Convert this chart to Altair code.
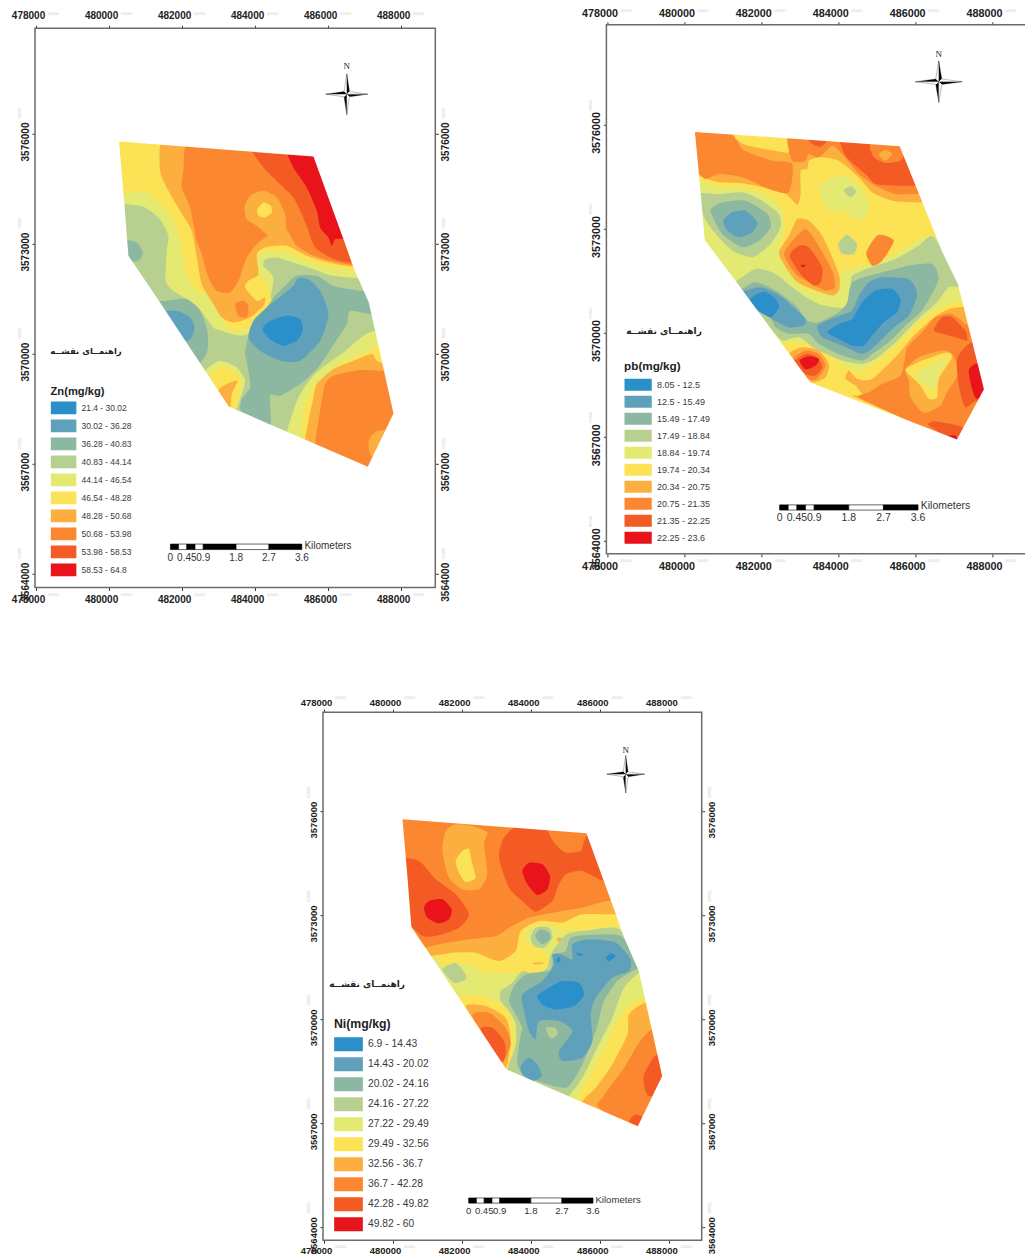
import altair as alt
import pandas as pd

COLORS = ["#2b8fc9", "#5fa1ba", "#8cb7a1", "#b8d08f", "#e4ea71", "#fce255", "#fcaf3f", "#fb8731", "#f35a24", "#e8131b"]
ZN_LABELS = ["21.4 - 30.02", "30.02 - 36.28", "36.28 - 40.83", "40.83 - 44.14", "44.14 - 46.54", "46.54 - 48.28", "48.28 - 50.68", "50.68 - 53.98", "53.98 - 58.53", "58.53 - 64.8"]
PB_LABELS = ["8.05 - 12.5", "12.5 - 15.49", "15.49 - 17.49", "17.49 - 18.84", "18.84 - 19.74", "19.74 - 20.34", "20.34 - 20.75", "20.75 - 21.35", "21.35 - 22.25", "22.25 - 23.6"]
NI_LABELS = ["6.9 - 14.43", "14.43 - 20.02", "20.02 - 24.16", "24.16 - 27.22", "27.22 - 29.49", "29.49 - 32.56", "32.56 - 36.7", "36.7 - 42.28", "42.28 - 49.82", "49.82 - 60"]
X_TICKS = [478000, 480000, 482000, 484000, 486000, 488000]
Y_TICKS = [3564000, 3567000, 3570000, 3573000, 3576000]
X_DOMAIN = [477972, 488935]
Y_DOMAIN = [3563625, 3578870]
BOX = (479600, 488800, 3566000, 3576600)
SCALE_KM = [0, 0.225, 0.45, 0.675, 0.9, 1.8, 2.7, 3.6]
SCALE_TEXT = [("0", 0), ("0.45", 0.45), ("0.9", 0.9), ("1.8", 1.8), ("2.7", 2.7), ("3.6", 3.6)]
LEGEND_TITLE_FA = "راهنمــای نقشــه"

OUTLINE = [(357,432),(940,477),(1030,725),(1060,810),(1106,915),(1180,1248),(1103,1408),(686,1227),(470,900),(385,775),(373,620)]

ZN = [
 (4,0,[(340,620),(373,620),(430,628),(480,665),(505,715),(500,760),(497,850),(520,880),(590,925),(640,990),(665,1000),(720,1015),(760,1000),(800,930),(810,905),(820,840),(790,805),(795,785),(830,780),(880,795),(940,815),(1000,835),(1120,845),(1200,845),(1200,400),(340,400)]),
 (4,0,[(1130,1000),(1090,1015),(1030,1065),(980,1100),(935,1140),(895,1200),(870,1270),(860,1310),(860,1440),(1240,1440),(1240,1000)]),
 (4,0,[(620,1115),(660,1090),(710,1110),(735,1150),(720,1205),(705,1240),(650,1240),(600,1160)]),
 (5,0,[(340,590),(372,590),(420,580),(460,600),(500,640),(530,690),(548,760),(555,820),(590,880),(640,900),(680,990),(720,1000),(770,990),(800,950),(815,915),(800,860),(775,830),(770,785),(800,760),(860,765),(950,800),(1065,820),(1200,820),(1200,400),(340,400)]),
 (5,0,[(1145,1040),(1100,1065),(1030,1095),(985,1125),(935,1175),(910,1240),(905,1320),(905,1440),(1240,1440),(1240,1040)]),
 (5,0,[(630,1140),(660,1110),(700,1120),(722,1150),(712,1205),(695,1240),(660,1230)]),
 (6,0,[(490,420),(480,520),(505,580),(540,640),(575,700),(590,780),(605,860),(640,920),(665,960),(700,975),(750,960),(790,925),(795,900),(770,910),(735,870),(745,850),(775,830),(770,770),(800,748),(860,745),(920,775),(985,795),(1062,808),(1200,808),(1200,420)]),
 (6,0,[(1160,1100),(1130,1090),(1115,1070),(1060,1090),(1000,1115),(950,1160),(940,1200),(925,1270),(915,1330),(915,1440),(1240,1440),(1240,1100)]),
 (6,0,[(655,1180),(680,1160),(712,1150),(695,1190),(690,1240),(670,1240)]),
 (7,0,[(565,420),(550,520),(545,570),(570,630),(590,730),(605,770),(625,840),(650,880),(690,885),(715,850),(740,780),(770,740),(805,715),(860,700),(885,740),(930,770),(990,790),(1060,803),(1200,803),(1200,420)]),
 (7,0,[(1160,1120),(1080,1118),(1000,1135),(975,1160),(960,1240),(945,1340),(945,1440),(1240,1440),(1240,1120)]),
 (7,0,[(705,920),(730,910),(745,925),(740,960),(715,955)]),
 (6,0,[(733,630),(750,595),(790,580),(830,600),(855,650),(860,700),(885,745),(820,718),(805,715),(770,685),(740,665)]),
 (6,0,[(1200,1300),(1135,1300),(1110,1320),(1105,1345),(1118,1380),(1200,1400)]),
 (5,0,[(772,635),(790,615),(812,625),(815,645),(795,660),(775,655)]),
 (8,0,[(750,440),(790,510),(840,560),(880,600),(905,650),(925,700),(945,750),(1000,785),(1060,795),(1200,795),(1200,440)]),
 (9,0,[(862,450),(880,510),(920,570),(950,640),(960,690),(985,720),(995,745),(1005,725),(1035,725),(1200,725),(1200,450)]),
 (2,0,[(370,730),(410,735),(428,765),(415,790),(370,790)]),
 (2,0,[(450,920),(500,910),(560,905),(600,940),(622,1000),(622,1060),(600,1095),(560,1100),(450,1000)]),
 (1,0,[(480,950),(530,940),(570,960),(583,990),(570,1025),(520,1040)]),
 (2,0,[(745,1120),(735,1065),(745,1020),(770,980),(800,930),(825,895),(860,860),(890,835),(950,835),(1000,865),(1080,880),(1130,880),(1130,950),(1050,940),(1040,980),(985,1065),(950,1115),(900,1160),(840,1195),(810,1195),(812,1295),(770,1285),(722,1240),(725,1205),(750,1170)]),
 (1,0,[(745,1020),(760,970),(800,930),(875,870),(895,842),(925,845),(960,880),(985,950),(960,1030),(900,1090),(840,1090),(780,1060)]),
 (0,0,[(787,995),(810,970),(860,955),(900,965),(908,1000),(890,1030),(850,1045),(810,1025)]),
]

PB = [
 (5,0,[(340,530),(420,565),(500,575),(570,590),(620,640),(625,700),(610,770),(650,840),(700,880),(790,880),(800,820),(830,815),(880,800),(960,770),(1030,725),(1075,715),(1200,715),(1200,400),(340,400)]),
 (5,855,[(620,190),(660,180),(720,190),(770,215),(800,250),(850,265),(900,240),(960,190),(1020,130),(1080,85),(1140,60),(1240,60),(1240,560),(800,400),(700,300)]),
 (6,0,[(340,525),(370,535),(430,555),(500,558),(560,570),(630,590),(665,622),(675,590),(675,520),(695,515),(700,490),(730,480),(790,490),(850,540),(890,585),(950,610),(1010,615),(1200,615),(1200,400),(340,400)]),
 (6,855,[(820,265),(845,290),(890,290),(960,225),(990,190),(1010,165),(1070,110),(1110,85),(1150,75),(1240,80),(1240,560),(1140,480),(830,340),(860,340),(840,310),(810,290)]),
 (6,855,[(640,215),(680,195),(730,205),(760,245),(750,285),(710,300),(660,260)]),
 (6,0,[(610,770),(640,715),(665,665),(700,670),(740,715),(790,830),(790,880),(770,895),(720,880),(660,850)]),
 (5,0,[(470,410),(640,422),(640,465),(585,458),(520,445),(495,435)]),
 (7,0,[(340,530),(370,530),(390,545),(430,530),(500,540),(580,575),(640,585),(650,500),(590,490),(530,470),(500,455),(480,425),(460,405),(340,400)]),
 (7,0,[(640,405),(650,490),(690,490),(700,470),(730,480),(770,445),(800,470),(850,530),(900,565),(960,590),(1020,590),(1200,590),(1200,405)]),
 (7,0,[(625,770),(660,720),(690,695),(720,730),(770,820),(778,870),(750,880),(710,860),(660,830)]),
 (7,855,[(850,345),(880,330),(920,305),(975,280),(990,220),(995,195),(1040,150),(1080,105),(1130,95),(1180,130),(1240,130),(1240,560),(1150,490)]),
 (7,855,[(650,235),(690,205),(730,215),(750,250),(725,290),(700,290)]),
 (7,0,[(872,770),(885,740),(910,712),(955,730),(920,790),(890,805)]),
 (6,855,[(990,260),(1030,225),(1100,205),(1130,215),(1150,270),(1115,330),(1095,370),(1045,392),(1005,345),(1000,295)]),
 (5,855,[(990,262),(1040,235),(1110,212),(1130,225),(1090,290),(1085,345),(1060,350),(1035,310),(1010,285)]),
 (4,855,[(1020,275),(1050,255),(1115,225),(1095,270),(1075,320),(1040,305)]),
 (8,0,[(795,405),(810,475),(870,530),(900,560),(960,565),(1015,565),(1200,565),(1200,405)]),
 (8,0,[(700,425),(755,428),(735,448),(710,440)]),
 (8,0,[(642,775),(670,745),(700,750),(740,810),(735,855),(715,865),(675,830)]),
 (8,855,[(1075,140),(1100,105),(1130,105),(1170,145),(1175,175),(1140,165),(1085,150)]),
 (8,855,[(1145,230),(1180,185),(1240,180),(1240,400),(1205,355),(1170,375),(1150,310)]),
 (8,855,[(1060,430),(1080,418),(1160,435),(1150,480)]),
 (8,855,[(655,240),(690,215),(725,225),(740,255),(720,280),(690,275)]),
 (7,0,[(885,440),(895,480),(930,497),(975,490),(985,470),(970,440)]),
 (6,0,[(910,472),(930,457),(950,470),(930,490)]),
 (9,0,[(675,803),(690,803),(682,810)]),
 (9,855,[(1180,265),(1200,245),(1240,250),(1240,320),(1205,350),(1190,320)]),
 (9,855,[(1115,462),(1140,460),(1145,475)]),
 (9,855,[(672,235),(700,222),(730,230),(720,250),(690,262)]),
 (4,0,[(735,565),(770,540),(820,540),(870,590),(880,640),(850,670),(800,640),(760,640),(735,600)]),
 (3,0,[(805,580),(825,567),(842,583),(825,600)]),
 (3,0,[(788,740),(815,712),(845,740),(835,770),(800,770)]),
 (3,0,[(365,590),(430,590),(500,585),(560,610),(610,650),(615,690),(585,740),(530,780),(470,760),(420,710),(385,660)]),
 (2,0,[(405,640),(440,615),(510,610),(575,650),(585,690),(550,730),(500,750),(440,710)]),
 (1,0,[(443,670),(470,645),(510,640),(545,675),(530,705),(490,720),(455,700)]),
 (3,0,[(470,860),(540,815),(600,830),(650,870),(700,905),(745,925),(810,930),(825,870),(830,835),(880,812),(960,785),(1030,745),(1075,720),(1160,860),(1120,870),(1085,915),(1040,955),(990,1005),(950,1045),(900,1085),(860,1100),(800,1090),(720,1055),(670,1020),(620,1030),(590,1000),(460,870)]),
 (2,0,[(490,880),(540,855),(600,880),(660,925),(695,970),(730,975),(790,945),(815,915),(830,855),(900,830),(1000,805),(1070,800),(1090,840),(1075,880),(1040,940),(990,985),(940,1035),(890,1070),(860,1090),(800,1075),(730,1040),(700,1010),(640,1010),(600,990),(580,960),(470,890)]),
 (1,0,[(500,885),(560,870),(620,900),(670,945),(690,965),(685,985),(640,990),(590,965),(540,920)]),
 (0,0,[(523,905),(565,883),(600,905),(610,930),(585,960),(540,935)]),
 (1,0,[(725,985),(780,960),(830,940),(850,895),(880,855),(920,840),(1000,845),(1025,890),(1000,955),(950,995),(900,1045),(860,1070),(800,1045),(740,1020)]),
 (0,855,[(755,150),(790,125),(830,110),(860,60),(900,25),(950,20),(975,50),(965,90),(925,120),(890,160),(865,190),(830,190),(790,170)]),
]

NI = [
 (5,0,[(300,820),(420,810),(445,845),(480,825),(530,835),(570,855),(720,855),(755,835),(760,800),(720,780),(690,760),(700,720),(760,712),(810,730),(880,725),(975,715),(1180,700),(1180,400),(300,400)]),
 (5,0,[(490,930),(560,925),(620,950),(645,985),(655,1040),(650,1100),(640,1150),(600,1150)]),
 (5,0,[(1050,930),(1000,950),(960,1010),(930,1075),(880,1170),(850,1240),(1180,1450),(1180,930)]),
 (6,0,[(300,800),(400,805),(470,795),(540,795),(610,820),(660,790),(675,730),(730,700),(800,705),(860,680),(955,680),(1180,680),(1180,400),(300,400)]),
 (6,0,[(510,955),(570,955),(630,990),(645,1050),(635,1130),(620,1140)]),
 (6,0,[(1050,945),(1000,980),(995,1040),(950,1130),(900,1200),(860,1250),(1180,1450),(1180,945)]),
 (7,0,[(300,782),(380,782),(430,770),(520,755),(600,745),(640,720),(700,690),(800,670),(860,660),(935,640),(1180,640),(1180,400),(300,400)]),
 (7,0,[(530,985),(580,975),(630,1020),(645,1070),(625,1120),(600,1130)]),
 (7,0,[(1075,1020),(1030,1065),(985,1140),(920,1230),(910,1260),(1180,1450),(1180,1020)]),
 (6,0,[(440,490),(450,430),(480,410),(530,415),(575,435),(565,470),(575,560),(550,605),(500,605),(460,570)]),
 (5,0,[(480,520),(500,490),(520,485),(530,530),(540,570),(510,583),(490,555)]),
 (8,0,[(300,515),(370,520),(420,575),(480,620),(520,680),(490,720),(420,745),(380,745),(345,715),(300,700)]),
 (8,0,[(610,510),(625,450),(680,405),(870,405),(930,580),(860,550),(810,560),(785,600),(770,640),(720,672),(680,640),(640,600)]),
 (8,0,[(555,1025),(590,1020),(625,1060),(630,1100),(615,1120)]),
 (8,0,[(1180,1100),(1085,1100),(1060,1130),(1043,1170),(1060,1225),(1180,1200)]),
 (8,840,[(1000,460),(1020,440),(1040,450),(1025,490)]),
 (7,0,[(760,420),(875,420),(862,470),(855,490),(810,495),(775,465)]),
 (9,0,[(385,660),(400,640),(440,635),(468,665),(460,695),(430,707),(395,690)]),
 (9,0,[(680,550),(700,525),(740,530),(763,565),(755,605),(725,622),(695,590)]),
 (3,0,[(765,800),(800,750),(825,735),(880,728),(970,725),(1060,850),(1030,855),(985,900),(950,990),(920,1050),(885,1120),(860,1170),(810,1230),(640,1160),(640,1130),(660,1070),(660,1010),(640,970),(615,940),(615,910),(650,885),(680,850),(720,860),(755,840)]),
 (3,0,[(705,750),(720,720),(760,720),(770,750),(745,780),(715,775)]),
 (3,0,[(440,845),(480,825),(510,860),(510,875),(475,885)]),
 (2,0,[(718,745),(735,725),(760,735),(763,755),(740,770)]),
 (2,0,[(775,800),(810,790),(825,750),(880,742),(975,745),(1040,830),(1010,850),(965,880),(925,940),(900,1030),(860,1130),(810,1200),(700,1170),(665,1130),(675,1040),(680,1020),(660,980),(640,940),(655,895),(690,860),(760,850),(770,830)]),
 (1,0,[(770,840),(775,830),(770,800),(795,800),(830,815),(830,770),(880,755),(960,765),(1005,815),(1000,850),(950,870),(900,930),(885,980),(890,1060),(860,1110),(800,1120),(790,1090),(830,1030),(790,1000),(730,1000),(720,1055),(700,1030),(685,970),(680,920),(740,880)]),
 (1,840,[(675,295),(700,270),(725,290),(738,325),(710,340),(680,320)]),
 (3,840,[(750,180),(780,180),(785,200),(765,212)]),
 (0,840,[(725,85),(760,60),(800,40),(850,45),(865,80),(835,115),(780,125),(740,110)]),
 (0,0,[(930,810),(945,797),(960,805),(940,820)]),
 (0,0,[(842,795),(860,798),(858,805),(845,802)]),
 (0,0,[(782,815),(790,808),(795,820),(785,825)]),
 (6,0,[(712,825),(745,825),(735,830),(715,830)]),
 (6,0,[(785,750),(795,750),(795,760),(785,760)]),
]

STAR_PIECES = [
 ("black", [(0,0),(0,1),(.13,.13)]), ("white", [(0,0),(0,1),(-.13,.13)]),
 ("black", [(0,0),(1,0),(.13,-.13)]), ("white", [(0,0),(1,0),(.13,.13)]),
 ("black", [(0,0),(0,-1),(-.13,-.13)]), ("white", [(0,0),(0,-1),(.13,-.13)]),
 ("black", [(0,0),(-1,0),(-.13,.13)]), ("white", [(0,0),(-1,0),(-.13,-.13)]),
]

def georef(tick_x, per_km_x, tick_y, per_km_y):
    """Map a trace point to easting/northing from the 478000 and 3576000 tick positions."""
    return lambda zx, zy: (478000 + (zx - tick_x) * 1000 / per_km_x,
                           3576000 - (zy - tick_y) * 1000 / per_km_y)

geo1 = georef(108, 109.5, 408, 110.08)
OUTLINE_MAP = [geo1(*p) for p in OUTLINE]

def clamp(e, n):
    m = 400
    return (min(max(e, BOX[0] + m), BOX[1] - m), min(max(n, BOX[2] + m), BOX[3] - m))

def refine(pts, step=150):
    out = []
    for k, (a, b) in enumerate(pts):
        c, d = pts[(k + 1) % len(pts)]
        parts = int(max(abs(c - a), abs(d - b)) // step) + 1
        out += [(a + (c - a) * s / parts, b + (d - b) * s / parts) for s in range(parts)]
    return out

def axis_x(orient, fs, pad, offset=0):
    return alt.Axis(orient=orient, values=X_TICKS, format="d", title=None, grid=False, domain=False,
                    tickColor="#333333", tickSize=3, labelOffset=-8, labelFlush=False, labelOverlap=False,
                    labelFont="Liberation Sans", labelFontWeight="bold", labelColor="#222222", labelPadding=pad,
                    labelFontSize=fs, offset=offset, minExtent=0)

def axis_y(orient, fs, labels=True):
    return alt.Axis(orient=orient, values=Y_TICKS, format="d", title=None, grid=False, domain=False,
                    tickColor="#333333", tickSize=3, labelAngle=270, labelAlign="center",
                    labelBaseline="bottom" if orient == "left" else "top", labelOffset=8, labelFlush=False,
                    labelOverlap=False, labels=labels, labelFont="Liberation Sans", labelFontWeight="bold",
                    labelColor="#222222", labelPadding=2, labelFontSize=fs, minExtent=0)

def panel(bands, base, geo, labels, title, w, h, fs_tick, pad, leg, star, bar, right_labels=True, drop=0.0):
    y_top = Y_DOMAIN[1] + drop * (Y_DOMAIN[1] - Y_DOMAIN[0]) / (h - drop)
    X = lambda **k: alt.X("e:Q", scale=alt.Scale(domain=X_DOMAIN, nice=False, zero=False), **k)
    Y = lambda **k: alt.Y("n:Q", scale=alt.Scale(domain=[Y_DOMAIN[0], y_top], nice=False, zero=False), **k)
    rows = []
    for i, (c, dy, pts) in enumerate(bands):
        for j, (zx, zy) in enumerate(refine(pts)):
            e, n = clamp(*geo(zx, zy + dy))
            rows.append(dict(poly=i, seq=j, e=e, n=n, band=labels[c]))
    poly_df = pd.DataFrame(rows)
    ratio = leg["h"] / leg["w"]
    legend = alt.Legend(orient="none", legendX=leg["x"], legendY=leg["y"], title=title,
                        titleFont="Liberation Sans", titleFontWeight="bold", titleFontSize=leg["title"],
                        titleColor="#222222", titlePadding=leg["pad"], labelFont="Liberation Sans",
                        labelFontSize=leg["fs"], labelColor="#3a3a3a", labelOffset=5,
                        symbolType=f"M-1,-{ratio:.3f}H1V{ratio:.3f}H-1Z", symbolSize=leg["w"] ** 2,
                        symbolStrokeWidth=0, clipHeight=leg["pitch"], rowPadding=0, symbolOpacity=1)
    frame = alt.Chart(pd.DataFrame([dict(e=X_DOMAIN[0], e2=X_DOMAIN[1], n=Y_DOMAIN[0], n2=Y_DOMAIN[1])])).mark_rect(
        fill="transparent", stroke="#6b6b6b", strokeWidth=1.5).encode(x=X(axis=None), x2="e2:Q", y=Y(axis=None), y2="n2:Q")
    base_layer = alt.Chart(pd.DataFrame([dict(e=BOX[0] + 400, e2=BOX[1] - 400, n=BOX[2] + 400, n2=BOX[3] - 400)])).mark_rect(
        color=COLORS[base]).encode(x=X(axis=None), x2="e2:Q", y=Y(axis=None), y2="n2:Q")
    bands_layer = alt.Chart(poly_df).mark_line(filled=True, interpolate="cardinal-closed", tension=0.35).encode(
        x=X(axis=axis_x("bottom", fs_tick, pad)), y=Y(axis=axis_y("left", fs_tick)), order="seq:Q", detail="poly:N",
        color=alt.Color("band:N", scale=alt.Scale(domain=labels, range=COLORS), legend=legend))

    box = [(BOX[0], BOX[3]), (BOX[0], BOX[2]), (BOX[1], BOX[2]), (BOX[1], BOX[3]), (BOX[0], BOX[3])]
    ring = box + OUTLINE_MAP + [OUTLINE_MAP[0], box[0]]
    mask_df = pd.DataFrame([dict(seq=i, e=e, n=n) for i, (e, n) in enumerate(ring)])
    mask = alt.Chart(mask_df).mark_line(filled=True, color="white", interpolate="linear").encode(
        x=X(axis=axis_x("top", fs_tick, pad, offset=-drop)), y=Y(axis=axis_y("right", fs_tick, right_labels)), order="seq:Q")

    sx, sy = star["e"], star["n"]
    star_rows = []
    for i, (ink, pts) in enumerate(STAR_PIECES):
        for j, (u, v) in enumerate(pts):
            star_rows.append(dict(poly=i, seq=j, ink=ink, e=sx + u * star["rx"], n=sy + v * star["ry"]))
    star_layer = alt.Chart(pd.DataFrame(star_rows)).mark_line(filled=True, stroke="#222222", strokeWidth=0.3).encode(
        x=X(axis=None), y=Y(axis=None), order="seq:Q", detail="poly:N",
        color=alt.Color("ink:N", scale=None))

    seg = []
    for i in range(len(SCALE_KM) - 1):
        seg.append(dict(e=bar["e"] + SCALE_KM[i] * 1000, e2=bar["e"] + SCALE_KM[i + 1] * 1000,
                        n=bar["n"] - 75, n2=bar["n"] + 75, ink="black" if i % 2 == 0 else "white"))
    bar_layer = alt.Chart(pd.DataFrame(seg)).mark_rect(stroke="black", strokeWidth=0.6).encode(
        x=X(axis=None), x2="e2:Q", y=Y(axis=None), y2="n2:Q", fill=alt.Fill("ink:N", scale=None))
    bar_text = alt.Chart(pd.DataFrame([dict(t=t, e=bar["e"] + km * 1000, n=bar["tn"]) for t, km in SCALE_TEXT])).mark_text(
        font="Liberation Sans", fontSize=bar["fs"], color="#333333").encode(x=X(axis=None), y=Y(axis=None), text="t:N")
    km_text = alt.Chart(pd.DataFrame([dict(t="Kilometers", e=bar["e"] + 3670, n=bar["n"] + 30)])).mark_text(
        font="Liberation Sans", fontSize=bar["fs"], color="#333333", align="left").encode(
        x=X(axis=None), y=Y(axis=None), text="t:N")

    north = alt.Chart(pd.DataFrame([dict(t="N", e=sx, n=star["tn"])])).mark_text(
        font="Liberation Serif", fontSize=9, color="#222222").encode(x=X(axis=None), y=Y(axis=None), text="t:N")
    fa = alt.Chart(pd.DataFrame([dict(t=LEGEND_TITLE_FA, e=leg["fa_e"], n=leg["fa_n"])])).mark_text(
        font="DejaVu Sans", fontSize=leg["fa_fs"], fontWeight="bold", color="#222222").encode(
        x=X(axis=None), y=Y(axis=None), text="t:N")

    faint = [dict(e=t + 480, n=3579270, a=0) for t in X_TICKS] + [dict(e=t + 480, n=3563430, a=0) for t in X_TICKS]
    faint += [dict(e=477570, n=t + 560, a=270) for t in Y_TICKS]
    if right_labels:
        faint += [dict(e=489170, n=t + 560, a=270) for t in Y_TICKS]
    faint_h = alt.Chart(pd.DataFrame([f for f in faint if f["a"] == 0])).mark_text(
        text="00000", fontSize=4, color="#cfcfcf", font="Liberation Sans", clip=False).encode(x=X(axis=None), y=Y(axis=None))
    faint_v = alt.Chart(pd.DataFrame([f for f in faint if f["a"] == 270])).mark_text(
        text="00000", fontSize=4, color="#cfcfcf", font="Liberation Sans", angle=270, clip=False).encode(x=X(axis=None), y=Y(axis=None))

    return alt.layer(frame, base_layer, bands_layer, mask, star_layer, bar_layer, bar_text, km_text, north, fa, faint_h, faint_v).resolve_axis(
        x="independent", y="independent").properties(width=w, height=h)

p1 = panel(ZN, 3, geo1, ZN_LABELS, "Zn(mg/kg)", 400.3, 562.7, 10, 4.5,
           dict(x=15.5, y=361, w=25.7, h=12.7, pitch=17.75, title=11.2, pad=2, fs=8.5, fa_e=479370, fa_n=3570082, fa_fs=8.5),
           dict(e=486511, n=3577072, rx=575, ry=555, tn=3577844),
           dict(e=481680, n=3564734, tn=3564426, fs=10), drop=3.4)
p2 = panel(PB, 4, georef(95, 115.5, 381, 104.17), PB_LABELS, "pb(mg/kg)", 421.6, 529, 10.8, 3.5,
           dict(x=17.7, y=336.7, w=27.3, h=12, pitch=16.74, title=11.7, pad=3.2, fs=9, fa_e=479470, fa_n=3570055, fa_fs=9),
           dict(e=486615, n=3577229, rx=606, ry=600, tn=3578020),
           dict(e=482476, n=3564960, tn=3564653, fs=10.5), right_labels=False)
p3 = panel(NI, 4, georef(85, 103.6, 372, 103.83), NI_LABELS, "Ni(mg/kg)", 378.7, 528, 9.5, 2,
           dict(x=11, y=306, w=28.7, h=14, pitch=19.5, title=12.3, pad=4, fs=10.3, fa_e=479250, fa_n=3571010, fa_fs=9),
           dict(e=486735, n=3577079, rx=545, ry=540, tn=3577780),
           dict(e=482189, n=3564770, tn=3564462, fs=9.6))

spacer = alt.Chart(pd.DataFrame({"v": [0]})).mark_point(opacity=0).encode(
    x=alt.X("v:Q", axis=None), y=alt.Y("v:Q", axis=None)).properties(width=287.3, height=10)

row1 = alt.hconcat(p1, p2, spacing=170.4, bounds="flush").resolve_scale(color="independent")
row2 = alt.hconcat(spacer, p3, spacing=0, bounds="flush").resolve_scale(color="independent")
chart = alt.vconcat(row1, row2, spacing=90.4).resolve_scale(color="independent").properties(
    padding={"left": 3, "top": -1.2, "right": -7, "bottom": 0}
).configure_view(strokeWidth=0)
chart.save("out.html", embed_options={"renderer": "svg", "actions": False})
